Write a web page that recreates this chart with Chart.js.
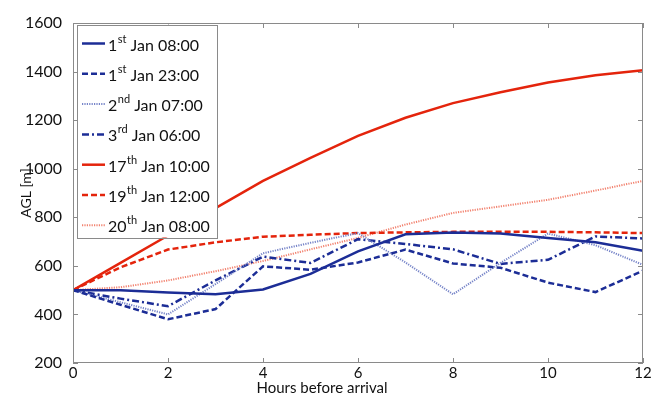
<!DOCTYPE html>
<html lang="en">
<head>
    <meta charset="UTF-8">
    <title>AGL vs hours before arrival</title>
    <style>
        body {
            margin: 0;
            background-color: #fff;
        }
        #wrap {
            width: 654px;
            height: 405px;
        }
    </style>
    <script src="https://cdn.jsdelivr.net/npm/chart.js"></script>
</head>
<body>

<div id="wrap"><canvas id="agl-chart" width="654" height="405"></canvas></div>

<script>
// hours before arrival
const hours = [0, 1, 2, 3, 4, 5, 6, 7, 8, 9, 10, 11, 12];

// AGL [m] for each trajectory
const jan01_0800 = [500, 500, 490, 483, 503, 567, 660, 730, 737, 733, 715, 697, 662];
const jan01_2300 = [500, 440, 380, 422, 598, 584, 614, 667, 610, 592, 531, 492, 580];
const jan02_0700 = [500, 450, 400, 525, 652, 695, 735, 614, 483, 612, 733, 685, 604];
const jan03_0600 = [500, 465, 434, 540, 638, 612, 710, 690, 668, 608, 625, 721, 713];
const jan17_1000 = [500, 612, 725, 838, 950, 1045, 1135, 1210, 1270, 1315, 1355, 1385, 1405];
const jan19_1200 = [500, 594, 667, 697, 720, 728, 735, 738, 740, 740, 740, 738, 735];
const jan20_0800 = [500, 512, 540, 578, 620, 668, 715, 770, 818, 845, 872, 910, 950];

// legend labels split into number / superscript / rest
const labelNums = ['1', '1', '2', '3', '17', '19', '20'];
const labelSups = ['st', 'st', 'nd', 'rd', 'th', 'th', 'th'];
const labelRest = [' Jan 08:00', ' Jan 23:00', ' Jan 07:00', ' Jan 06:00', ' Jan 10:00', ' Jan 12:00', ' Jan 08:00'];

const xTicks = [0, 2, 4, 6, 8, 10, 12];
const yTicks = [200, 400, 600, 800, 1000, 1200, 1400, 1600];
const xTitle = 'Hours before arrival';

const FONT = "Lato, sans-serif";
const TEXT = '#111';
const BLUE = '#1c2d96';
const LIGHTBLUE = '#7684c8';
const RED = '#e4240c';
const LIGHTRED = '#f2826f';

function pts(values) {
    return values.map((v, i) => ({ x: hours[i], y: v }));
}

function line(idx, values, color, width, dash) {
    return {
        label: labelNums[idx] + labelSups[idx] + labelRest[idx],
        data: pts(values),
        borderColor: color,
        borderWidth: width,
        borderDash: dash,
        pointRadius: 0,
        tension: 0,
        fill: false
    };
}

// box round the plot + inward ticks on all four sides (matlab style)
const boxPlugin = {
    id: 'boxTicks',
    afterDatasetsDraw(chart) {
        const ctx = chart.ctx;
        const a = chart.chartArea;
        const xs = chart.scales.x, ys = chart.scales.y;
        ctx.save();
        ctx.strokeStyle = '#8a8a8a';
        ctx.lineWidth = 1;
        ctx.strokeRect(Math.round(a.left) + 0.5, Math.round(a.top) + 0.5,
            Math.round(a.right - a.left) - 1, Math.round(a.bottom - a.top) - 1);
        ctx.beginPath();
        xTicks.forEach(t => {
            const px = Math.round(xs.getPixelForValue(t)) + 0.5;
            ctx.moveTo(px, a.bottom); ctx.lineTo(px, a.bottom - 5);
            ctx.moveTo(px, a.top); ctx.lineTo(px, a.top + 5);
        });
        yTicks.forEach(t => {
            const py = Math.round(ys.getPixelForValue(t)) + 0.5;
            ctx.moveTo(a.left, py); ctx.lineTo(a.left + 5, py);
            ctx.moveTo(a.right, py); ctx.lineTo(a.right - 5, py);
        });
        ctx.stroke();

        // x tick labels, tight under the axis
        ctx.fillStyle = TEXT;
        ctx.font = '15px ' + FONT;
        ctx.textAlign = 'center';
        ctx.textBaseline = 'middle';
        xTicks.forEach(t => {
            ctx.fillText(String(t), xs.getPixelForValue(t), a.bottom + 10);
        });

        // x axis title sits a bit left of centre in the original
        ctx.fillText(xTitle, 322, 388);
        ctx.restore();
    }
};

// legend with superscripts, drawn inside the plot at top left
const legendPlugin = {
    id: 'supLegend',
    afterDraw(chart) {
        const ctx = chart.ctx;
        const a = chart.chartArea;
        const bx = a.left + 4, by = a.top + 1.5, bw = 140, bh = 213;
        ctx.save();
        ctx.fillStyle = '#fff';
        ctx.fillRect(bx, by, bw, bh);
        ctx.strokeStyle = '#8a8a8a';
        ctx.lineWidth = 1;
        ctx.strokeRect(Math.round(bx) + 0.5, Math.round(by) + 0.5, bw, bh);

        chart.data.datasets.forEach((ds, i) => {
            const cy = by + 19 + i * 30.3;
            ctx.save();
            ctx.strokeStyle = ds.borderColor;
            ctx.lineWidth = ds.borderWidth;
            ctx.setLineDash(ds.borderDash || []);
            ctx.beginPath();
            ctx.moveTo(bx + 5, cy);
            ctx.lineTo(bx + 28, cy);
            ctx.stroke();
            ctx.restore();

            let tx = bx + 31;
            ctx.fillStyle = TEXT;
            ctx.textBaseline = 'alphabetic';
            ctx.textAlign = 'left';
            ctx.font = '16px ' + FONT;
            ctx.fillText(labelNums[i], tx, cy + 7);
            tx += ctx.measureText(labelNums[i]).width;
            ctx.font = '11px ' + FONT;
            ctx.fillText(labelSups[i], tx + 0.5, cy - 1);
            tx += ctx.measureText(labelSups[i]).width + 0.5;
            ctx.font = '16px ' + FONT;
            ctx.fillText(labelRest[i], tx, cy + 7);
        });
        ctx.restore();
    }
};

new Chart(document.getElementById('agl-chart').getContext('2d'), {
    type: 'line',
    data: {
        datasets: [
            line(0, jan01_0800, BLUE, 2.5, []),
            line(1, jan01_2300, BLUE, 2.5, [6, 3]),
            line(2, jan02_0700, LIGHTBLUE, 2, [1.2, 1.2]),
            line(3, jan03_0600, BLUE, 2.5, [7, 3, 2, 3]),
            line(4, jan17_1000, RED, 2.5, []),
            line(5, jan19_1200, RED, 2.5, [6, 3]),
            line(6, jan20_0800, LIGHTRED, 2, [1.2, 1.2])
        ]
    },
    options: {
        responsive: false,
        animation: false,
        layout: { padding: { top: 23, right: 11, left: 0, bottom: 0 } },
        plugins: {
            legend: { display: false },
            tooltip: { enabled: false }
        },
        scales: {
            x: {
                type: 'linear',
                min: 0,
                max: 12,
                afterBuildTicks: s => { s.ticks = xTicks.map(v => ({ value: v })); },
                afterFit: s => { s.height = 42; },
                grid: { display: false },
                border: { display: false },
                ticks: { display: false }
            },
            y: {
                min: 200,
                max: 1600,
                afterBuildTicks: s => { s.ticks = yTicks.map(v => ({ value: v })); },
                afterFit: s => { s.width = 73; },
                grid: { display: false },
                border: { display: false },
                ticks: {
                    color: TEXT,
                    font: { family: FONT, size: 16 },
                    padding: 3,
                    callback: v => String(v)
                },
                title: {
                    display: true,
                    text: 'AGL [m]',
                    color: TEXT,
                    font: { family: FONT, size: 14, lineHeight: 1 },
                    padding: { top: 19, bottom: 0 }
                }
            }
        }
    },
    plugins: [boxPlugin, legendPlugin]
});
</script>

</body>
</html>
